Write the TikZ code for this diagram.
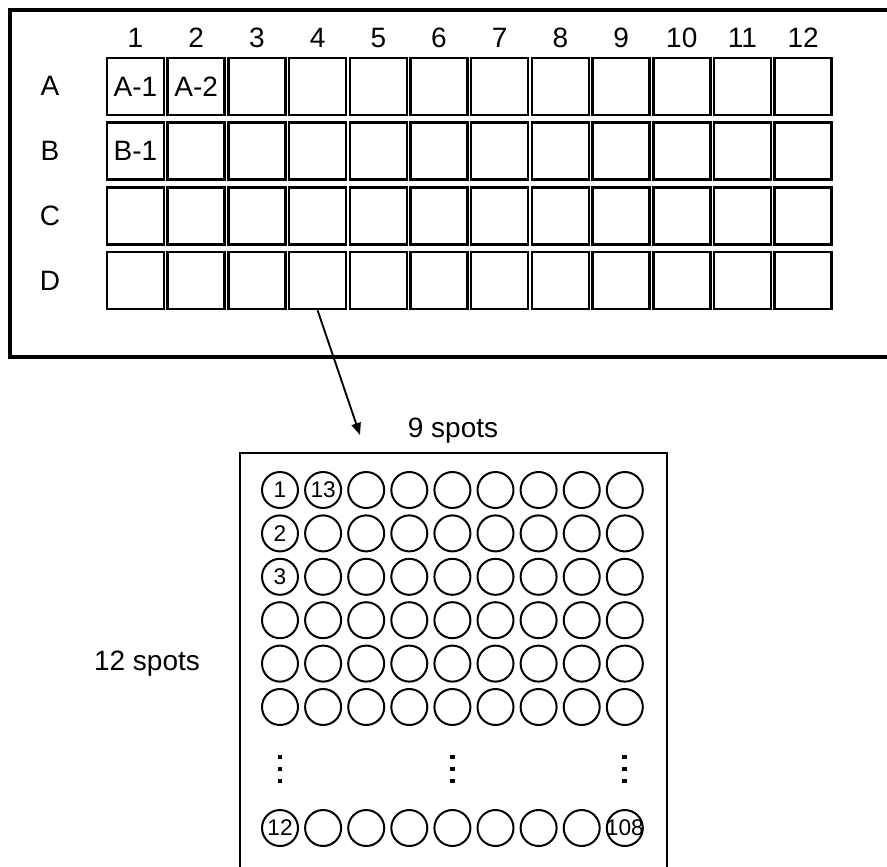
\documentclass[tikz,border=0pt]{standalone}
\usepackage{fontspec}
\setmainfont{Liberation Sans}
\usetikzlibrary{arrows.meta}
\expandafter\def\csname wtA1\endcsname{A-1}
\expandafter\def\csname wtA2\endcsname{A-2}
\expandafter\def\csname wtB1\endcsname{B-1}
\expandafter\def\csname st1-1\endcsname{1}
\expandafter\def\csname st1-2\endcsname{13}
\expandafter\def\csname st2-1\endcsname{2}
\expandafter\def\csname st3-1\endcsname{3}
\expandafter\def\csname st12-1\endcsname{12}
\expandafter\def\csname st12-9\endcsname{108}
\begin{document}
\begin{tikzpicture}[x=0.75pt,y=-0.75pt,
  well/.style={draw, line width=1.9pt, minimum size=42.75pt, inner sep=0pt, font=\fontsize{21}{24}\selectfont},
  lbl/.style={inner sep=0pt, anchor=base, font=\fontsize{21}{24}\selectfont},
  spot/.style={circle, draw, line width=1.5pt, minimum size=27pt, inner sep=0pt, font=\fontsize{17}{19}\selectfont},
  dotsq/.style={fill=black, minimum size=3.5pt, inner sep=0pt},
  frame/.style={line width=2.3pt},
  subframe/.style={line width=1.5pt},
  link/.style={line width=1.4pt, -{Triangle[length=9pt,width=7pt]}}]
\useasboundingbox (0,0) rectangle (887,866);
\clip (0,0) rectangle (887,866);
\fill[white] (0,0) rectangle (887,866);
% plate
\draw[frame] (10,10) rectangle (930,357);
\foreach \i in {1,...,12}
  \node[lbl] (k-\i) at ({135.5+(\i-1)*60.7},48) {\i};
\foreach \j/\r in {1/A,2/B,3/C,4/D}{
  \node[lbl] (r-\r) at (50,{86.5+(\j-1)*64.7+9.5}) {\r};
  \foreach \i in {1,...,12}
    \node[well] (w-\r-\i) at ({135.5+(\i-1)*60.7},{86.5+(\j-1)*64.7}) {\csname wt\r\i\endcsname};
}
% arrow
\coordinate (tip) at (360,435);
\draw[link] (w-D-4.south) -- (tip);
% spot box
\node[lbl] (nine) at (453,437) {9 spots};
\node[lbl] (twelve) at (147,670) {12 spots};
\draw[subframe] (240,900) -- (240,453) -- (667,453) -- (667,900);
\foreach \r in {1,...,6}
  \foreach \c in {1,...,9}
    \node[spot] (s-\r-\c) at ({280+(\c-1)*43.1},{490+(\r-1)*43.4}) {\makebox[0pt]{\csname st\r-\c\endcsname}};
\foreach \c in {1,...,9}
  \node[spot] (s-12-\c) at ({280+(\c-1)*43.1},828) {\makebox[0pt]{\csname st12-\c\endcsname}};
\foreach \x/\n in {280/a,452.4/b,624.8/c}
  \foreach \y/\m in {757/1,769/2,781/3}
    \node[dotsq] (d-\n-\m) at (\x,\y) {};
\end{tikzpicture}
\end{document}
